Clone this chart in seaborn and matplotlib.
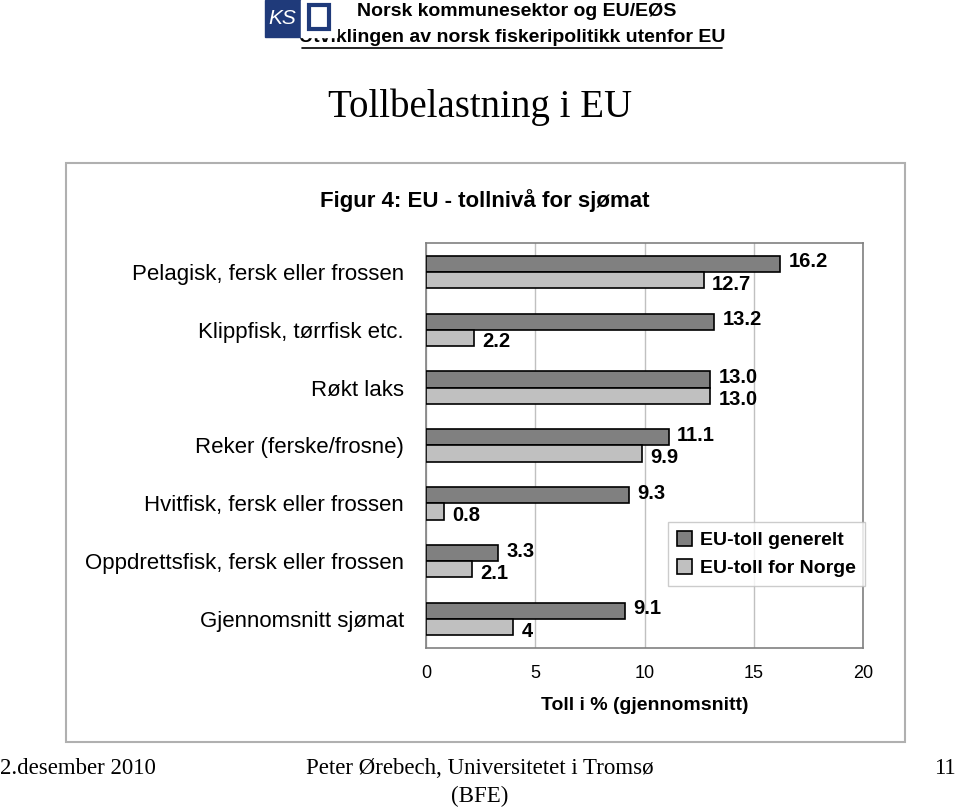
import matplotlib
matplotlib.use("Agg")
import matplotlib.pyplot as plt
import matplotlib.patches as mpatches
from matplotlib.lines import Line2D
import pandas as pd
import seaborn as sns

# ===== DATA =====
kategorier = [
    "Pelagisk, fersk eller frossen",
    "Klippfisk, tørrfisk etc.",
    "Røkt laks",
    "Reker (ferske/frosne)",
    "Hvitfisk, fersk eller frossen",
    "Oppdrettsfisk, fersk eller frossen",
    "Gjennomsnitt sjømat",
]
toll_generelt = [16.2, 13.2, 13.0, 11.1, 9.3, 3.3, 9.1]
toll_norge = [12.7, 2.2, 13.0, 9.9, 0.8, 2.1, 4]
etiketter_generelt = ["16.2", "13.2", "13.0", "11.1", "9.3", "3.3", "9.1"]
etiketter_norge = ["12.7", "2.2", "13.0", "9.9", "0.8", "2.1", "4"]
serier = ["EU-toll generelt", "EU-toll for Norge"]
x_ticks = [0, 5, 10, 15, 20]

df = pd.DataFrame({
    "Kategori": kategorier * 2,
    "Serie": [serier[0]] * len(kategorier) + [serier[1]] * len(kategorier),
    "Toll": toll_generelt + toll_norge,
})

sns.set_style("white")
plt.rcParams["font.family"] = ["Liberation Sans", "DejaVu Sans"]
for k in ["text.color", "axes.labelcolor", "xtick.color", "ytick.color"]:
    plt.rcParams[k] = "black"
serif = ["Liberation Serif", "DejaVu Serif"]

fig = plt.figure(figsize=(9.6, 8.07), dpi=100)
ax = fig.add_axes([0.4438, 0.197, 0.4552, 0.502])

sns.barplot(data=df, y="Kategori", x="Toll", hue="Serie", order=kategorier,
            hue_order=serier, palette=["#808080", "#c0c0c0"], width=0.56,
            edgecolor="black", linewidth=1.2, errorbar=None, ax=ax, zorder=3)

# data labels (dark ones nudged up, light ones down, as in the original)
for cont, etik, dy in zip(ax.containers, [etiketter_generelt, etiketter_norge], [1.5, -3.0]):
    tekster = ax.bar_label(cont, labels=etik, padding=6, fontsize=14.5, fontweight="bold")
    for t in tekster:
        t.xyann = (t.xyann[0], t.xyann[1] + dy)

ax.set_xlim(0, 20)
ax.set_xticks(x_ticks)
ax.set_xticklabels([str(t) for t in x_ticks], fontsize=13)
ax.tick_params(axis="x", length=0, pad=12)
ax.tick_params(axis="y", which="major", length=0, pad=16)
ax.set_yticks([i + 0.5 for i in range(-1, len(kategorier))], minor=True)
ax.tick_params(axis="y", which="minor", length=5, color="#808080", direction="out")
for lab in ax.get_yticklabels():
    lab.set_fontsize(16)
ax.set_ylabel("")
ax.set_xlabel("Toll i % (gjennomsnitt)", fontsize=14, fontweight="bold", labelpad=11)
ax.xaxis.grid(True, color="#c0c0c0", linewidth=1, zorder=0)
ax.set_axisbelow(True)
for sp in ax.spines.values():
    sp.set_color("#808080")
    sp.set_linewidth(1.2)

ax.legend(loc="upper left", bbox_to_anchor=(0.554, 0.311), borderaxespad=0,
          prop={"weight": "bold", "size": 14}, frameon=True, fancybox=False,
          edgecolor="#c0c0c0", handlelength=0.8, handleheight=0.8,
          handletextpad=0.4, borderpad=0.45, labelspacing=0.5)
ax.get_legend().get_frame().set_linewidth(1)

ax.set_title("Figur 4: EU - tollnivå for sjømat", fontsize=16, fontweight="bold",
             x=0.135, y=1.0, pad=26)

# chart frame
fig.patches.append(mpatches.Rectangle((66 / 960, 1 - 742 / 807), 839 / 960, 579 / 807,
                                      transform=fig.transFigure, fill=False,
                                      edgecolor="#b0b0b0", linewidth=1.5))

# slide header
fig.text(517 / 960, 1 - 12 / 807, "Norsk kommunesektor og EU/EØS", fontsize=14,
         fontweight="bold", ha="center", va="center")
fig.text(512 / 960, 1 - 38 / 807, "Utviklingen av norsk fiskeripolitikk utenfor EU", fontsize=14,
         fontweight="bold", ha="center", va="center")
fig.lines.append(Line2D([302 / 960, 722 / 960], [1 - 48 / 807, 1 - 48 / 807],
                        transform=fig.transFigure, color="black", linewidth=1.2))
fig.patches.append(mpatches.Rectangle((265 / 960, 1 - 37 / 807), 36 / 960, 37 / 807,
                                      transform=fig.transFigure, color="#1f3a7a", zorder=5))
fig.patches.append(mpatches.Rectangle((301 / 960, 1 - 37 / 807), 36 / 960, 37 / 807,
                                      transform=fig.transFigure, color="white", zorder=5))
fig.patches.append(mpatches.Rectangle((309 / 960, 1 - 29 / 807), 20 / 960, 24 / 807,
                                      transform=fig.transFigure, facecolor="white",
                                      edgecolor="#1f3a7a", linewidth=3, zorder=6))
fig.text(282 / 960, 1 - 18 / 807, "KS", fontsize=15, style="italic", color="white",
         ha="center", va="center", zorder=7)

fig.text(0.5, 1 - 107 / 807, "Tollbelastning i EU", fontsize=28, family=serif,
         ha="center", va="center")

# footer
fig.text(0.0, 1 - 768 / 807, "2.desember 2010", fontsize=16.5, family=serif, ha="left", va="center")
fig.text(0.5, 1 - 768 / 807, "Peter Ørebech, Universitetet i Tromsø", fontsize=16.5,
         family=serif, ha="center", va="center")
fig.text(0.5, 1 - 796 / 807, "(BFE)", fontsize=16.5, family=serif, ha="center", va="center")
fig.text(0.995, 1 - 768 / 807, "11", fontsize=16.5, family=serif, ha="right", va="center")

fig.savefig("out.png", dpi=100)
